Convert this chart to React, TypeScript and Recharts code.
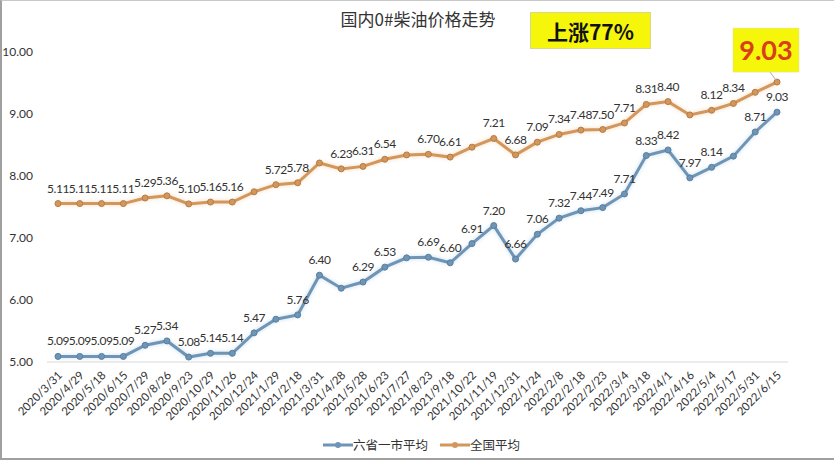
import React from 'react';
import { LineChart, Line, XAxis, YAxis, LabelList, Legend } from 'recharts';

// 日期
const dates = [
  '2020/3/31', '2020/4/29', '2020/5/18', '2020/6/15', '2020/7/29', '2020/8/26', '2020/9/23',
  '2020/10/29', '2020/11/26', '2020/12/24', '2021/1/29', '2021/2/18', '2021/3/31', '2021/4/28',
  '2021/5/28', '2021/6/23', '2021/7/27', '2021/8/23', '2021/9/18', '2021/10/22', '2021/11/19',
  '2021/12/31', '2022/1/24', '2022/2/8', '2022/2/18', '2022/2/23', '2022/3/4', '2022/3/18',
  '2022/4/1', '2022/4/16', '2022/5/4', '2022/5/17', '2022/5/31', '2022/6/15',
];

// 六省一市平均
const sixProvinces = [
  5.09, 5.09, 5.09, 5.09, 5.27, 5.34, 5.08, 5.14, 5.14, 5.47, 5.69, 5.76, 6.40, 6.19,
  6.29, 6.53, 6.68, 6.69, 6.60, 6.91, 7.20, 6.66, 7.06, 7.32, 7.44, 7.49, 7.71, 8.33,
  8.42, 7.97, 8.14, 8.32, 8.71, 9.03,
];

// 全国平均
const national = [
  5.11, 5.11, 5.11, 5.11, 5.29, 5.36, 5.10, 5.16, 5.16, 5.49, 5.72, 5.78, 6.42, 6.23,
  6.31, 6.54, 6.68, 6.70, 6.61, 6.93, 7.21, 6.68, 7.09, 7.34, 7.48, 7.50, 7.71, 8.31,
  8.40, 7.97, 8.12, 8.34, 8.70, 9.03,
];

// points without a value label in the original
const sixHidden = [10, 13, 16, 31];
const nationalHidden = [9, 12, 16, 19, 29, 32];

const leftTicks = [5, 6, 7, 8, 9, 10];

const BLUE = '#6e95b6';
const ORANGE = '#d3975c';
const FONT = "Lato, 'Noto Sans CJK SC', sans-serif";
const CJK = "'Noto Sans CJK SC', sans-serif";

const data = dates.map((d, i) => ({ date: d, six: sixProvinces[i], nat: national[i] }));

const DateTick = (props: any) => {
  const { x, y, payload } = props;
  return (
    <g transform={`translate(${x + 5},${y + 6})`}>
      <text textAnchor="end" transform="rotate(-45)" fontSize={11.5} fill="#333" fontFamily={FONT}>
        {payload.value}
      </text>
    </g>
  );
};

const makeLabel = (hidden: number[]) => (props: any) => {
  const { x, y, value, index } = props;
  if (hidden.includes(index)) return null;
  return (
    <text x={x} y={y - 11} textAnchor="middle" fontSize={12} letterSpacing={-0.4} fill="#333" fontFamily={FONT}>
      {Number(value).toFixed(2)}
    </text>
  );
};

const NationalLabel = (props: any) => {
  const { x, y, value, index } = props;
  if (index === national.length - 1) {
    return (
      <g>
        <line x1={x - 7} y1={y - 10} x2={x - 1} y2={y - 2} stroke="#aaa" strokeWidth={1} />
        <rect x={x - 44} y={y - 54} width={66} height={44} fill="#f6f60a" stroke="#e0e0a0" strokeWidth={0.5} />
        <text x={x - 11} y={y - 22} textAnchor="middle" fontSize={27} fontWeight="bold" fill="#d8401c" fontFamily={FONT}>
          {Number(value).toFixed(2)}
        </text>
      </g>
    );
  }
  return makeLabel(nationalHidden)(props);
};

const LegendContent = () => (
  <div style={{ display: 'flex', alignItems: 'center', justifyContent: 'flex-start', fontFamily: CJK, fontSize: 12.5, color: '#333' }}>
    {[
      { name: '六省一市平均', color: BLUE },
      { name: '全国平均', color: ORANGE },
    ].map((item, i) => (
      <div key={item.name} style={{ display: 'flex', alignItems: 'center', marginRight: i === 0 ? 12 : 0 }}>
        <svg width={30} height={10}>
          <line x1={0} y1={5} x2={30} y2={5} stroke={item.color} strokeWidth={3} />
          <circle cx={15} cy={5} r={3} fill={item.color} />
        </svg>
        <span>{item.name}</span>
      </div>
    ))}
  </div>
);

export default function App() {
  return (
    <div
      style={{
        position: 'absolute',
        left: 0,
        top: 0,
        width: 836,
        height: 462,
        background: '#fff',
      }}
    >
      <style>{`
        .blue-line .recharts-line-curve { filter: drop-shadow(0 0 2px #c9dcec); }
        .orange-line .recharts-line-curve { filter: drop-shadow(0 0 2px #f3d9bc); }
      `}</style>
      <div
        style={{
          position: 'absolute',
          left: 0,
          top: 0,
          width: 832,
          height: 457,
          borderLeft: '2px solid #a0a0a0',
          borderTop: '1px solid #c8c8c8',
          borderBottom: '2px solid #a0a0a0',
          pointerEvents: 'none',
        }}
      />
      <div
        style={{
          position: 'absolute',
          left: 0,
          width: 836,
          top: 6,
          textAlign: 'center',
          fontFamily: CJK,
          fontSize: 17,
          color: '#333',
        }}
      >
        国内0#柴油价格走势
      </div>
      <div
        style={{
          position: 'absolute',
          left: 530,
          top: 12,
          width: 121,
          height: 37,
          background: '#f6f60a',
          border: '1px solid #d8d890',
          boxSizing: 'border-box',
          display: 'flex',
          alignItems: 'center',
          justifyContent: 'center',
          fontFamily: CJK,
          fontWeight: 'bold',
          fontSize: 21,
          color: '#111',
        }}
      >
        上涨77%
      </div>
      <LineChart
        width={836}
        height={462}
        data={data}
        margin={{ top: 52, right: 48, left: 0, bottom: 30 }}
      >
        <XAxis
          dataKey="date"
          interval={0}
          height={70}
          padding={{ left: 11, right: 11 }}
          tick={<DateTick />}
          tickLine={false}
          axisLine={{ stroke: '#d9d9d9' }}
        />
        <YAxis
          yAxisId="left"
          domain={[5, 10]}
          ticks={leftTicks}
          interval={0}
          width={47}
          axisLine={false}
          tickLine={false}
          tickMargin={8}
          tickFormatter={(v: number) => v.toFixed(2)}
          tick={{ fontSize: 12, fill: '#333', fontFamily: FONT }}
        />
        <YAxis yAxisId="right" orientation="right" domain={[0, 10]} hide />
        <Legend
          verticalAlign="middle"
          layout="horizontal"
          wrapperStyle={{ top: 435, left: 323, width: 300 }}
          content={<LegendContent />}
        />
        <Line
          yAxisId="left"
          dataKey="six"
          name="六省一市平均"
          className="blue-line"
          stroke={BLUE}
          strokeWidth={3}
          dot={{ r: 3, fill: BLUE, stroke: '#5a7f9e', strokeWidth: 1 }}
          isAnimationActive={false}
        >
          <LabelList dataKey="six" content={makeLabel(sixHidden)} />
        </Line>
        <Line
          yAxisId="right"
          dataKey="nat"
          name="全国平均"
          className="orange-line"
          stroke={ORANGE}
          strokeWidth={3}
          dot={{ r: 3, fill: ORANGE, stroke: '#b47c45', strokeWidth: 1 }}
          isAnimationActive={false}
        >
          <LabelList dataKey="nat" content={NationalLabel} />
        </Line>
      </LineChart>
    </div>
  );
}
